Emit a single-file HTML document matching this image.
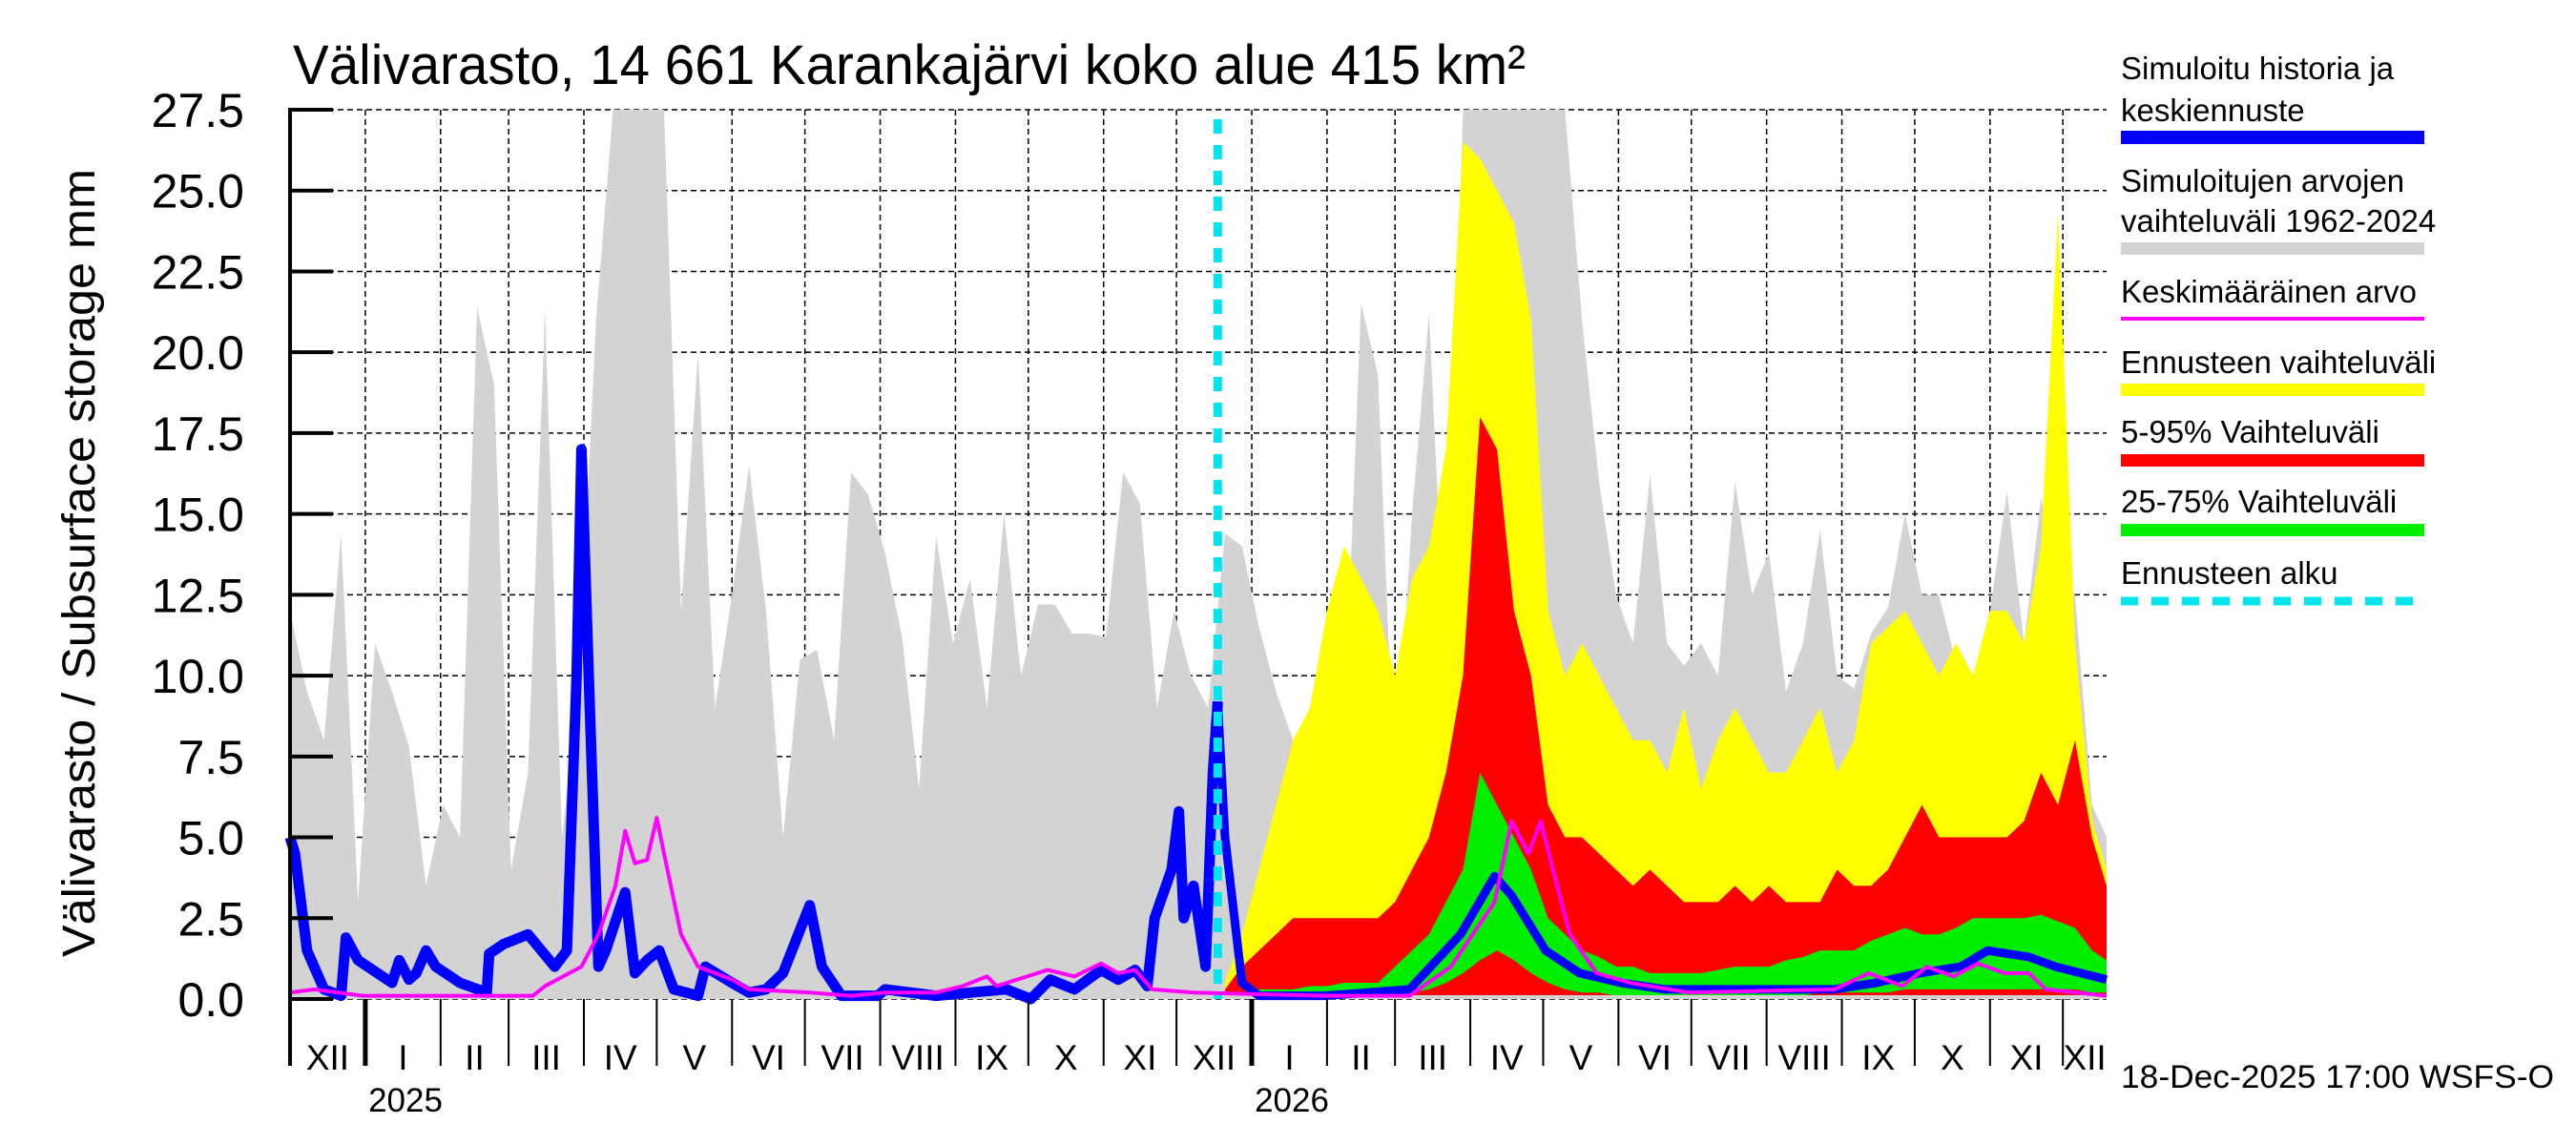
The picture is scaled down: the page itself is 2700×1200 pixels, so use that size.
<!DOCTYPE html>
<html><head><meta charset="utf-8"><style>
html,body{margin:0;padding:0;background:#fff;}
svg{display:block;font-family:"Liberation Sans",Arial,sans-serif;}
</style></head><body>
<svg id="chart" width="2700" height="1200" viewBox="0 0 2700 1200" xmlns="http://www.w3.org/2000/svg">
<text x="307" y="88" font-size="58" textLength="1292" lengthAdjust="spacingAndGlyphs">Välivarasto, 14 661 Karankajärvi koko alue 415 km²</text>
<text transform="translate(99,590) rotate(-90)" text-anchor="middle" font-size="48" textLength="826" lengthAdjust="spacingAndGlyphs">Välivarasto / Subsurface storage  mm</text>
<g id="plot"></g>
<g id="legend" font-size="33">
 <g><text x="2223" y="83">Simuloitu historia ja</text><text x="2223" y="127">keskiennuste</text><rect x="2223" y="137" width="318" height="14" fill="#0000ff"/></g>
 <g><text x="2223" y="201">Simuloitujen arvojen</text><text x="2223" y="243">vaihteluväli 1962-2024</text><rect x="2223" y="254" width="318" height="13" fill="#d3d3d3"/></g>
 <g><text x="2223" y="317">Keskimääräinen arvo</text><rect x="2223" y="332" width="318" height="4" fill="#ff00ff"/></g>
 <g><text x="2223" y="391">Ennusteen vaihteluväli</text><rect x="2223" y="402" width="318" height="13" fill="#ffff00"/></g>
 <g><text x="2223" y="464">5-95% Vaihteluväli</text><rect x="2223" y="476" width="318" height="13" fill="#ff0000"/></g>
 <g><text x="2223" y="537">25-75% Vaihteluväli</text><rect x="2223" y="549" width="318" height="13" fill="#00ee00"/></g>
 <g><text x="2223" y="612">Ennusteen alku</text><line x1="2223" y1="630" x2="2541" y2="630" stroke="#00e5ee" stroke-width="9" stroke-dasharray="18 14"/></g>
</g>
<text x="2223" y="1140" font-size="34" textLength="454" lengthAdjust="spacingAndGlyphs">18-Dec-2025 17:00 WSFS-O</text>
</svg>
<script>
// weekly values starting 1 Dec 2024 (week index k -> day 7k)
const grayMax = [12,9.5,8,14.4,3,11,9.5,7.8,3.5,6,5,21.4,19,4,7,21.3,5,10,21,27.5,27.5,27.5,27.5,12,20,9,12.5,16.5,12,5,10.5,10.8,8,16.3,15.6,13.8,11.2,6.5,14.3,11,13,9,15,10,12.2,12.2,11.3,11.3,11.2,16.3,15.3,9,12,10,9,14.4,14,11.5,9.5,8,7,5,8,21.5,19.3,6,15,21.2,10,27.5,27.5,27.5,27.5,27.5,27.5,27.5,21,16,12.5,11,16.2,11,10.3,11,10,16,12.5,13.8,9.5,11,14.5,10,9.6,11.3,12.1,15,12.5,12.5,10.4,9,12,15.7,11,15.5,13,12.5,6,5];
const fcStartWeek = 55;
const yellowMax = [0.5,2,4,6,8,9,12,14,13,12,10,13,14,17,26.5,26,25,24,21,12,10,11,10,9,8,8,7,9,6.5,8,9,8,7,7,8,9,7,8,11,11.5,12,11,10,11,10,12,12,11,14,24.3,11,5.5,4];
const redMax = [0.3,1,1.5,2,2.5,2.5,2.5,2.5,2.5,2.5,3,4,5,7,10,18,17,12,10,6,5,5,4.5,4,3.5,4,3.5,3,3,3,3.5,3,3.5,3,3,3,4,3.5,3.5,4,5,6,5,5,5,5,5,5.5,7,6,8,5,3.5];
const greenMax = [0.2,0.2,0.3,0.3,0.3,0.4,0.4,0.5,0.5,0.5,1,1.5,2,3,4,7,6,5,4,2.5,2,1.5,1.3,1,1,0.8,0.8,0.8,0.8,0.9,1,1,1,1.2,1.3,1.5,1.5,1.5,1.8,2,2.2,2,2,2.2,2.5,2.5,2.5,2.5,2.6,2.4,2.2,1.5,1.2];
const greenMin = [0,0,0,0,0,0,0,0,0,0,0.1,0.2,0.3,0.5,0.8,1.2,1.5,1.2,0.8,0.5,0.3,0.2,0.2,0.1,0.1,0.1,0.1,0.1,0.1,0.1,0.1,0.1,0.1,0.1,0.1,0.2,0.2,0.2,0.2,0.2,0.3,0.3,0.3,0.3,0.3,0.3,0.3,0.3,0.3,0.3,0.3,0.2,0.2];
// simulated history + median forecast (day offset from 1 Dec 2024)
const blueDays = [0,2,7,14,21,23,28,42,45,49,52,56,60,70,81,82,88,98,109,114,118,120,123,127,130,138,142,147,152,158,168,171,182,189,196,203,214,219,227,242,245,266,295,305,313,323,334,341,348,353,356,363,366,368,372,377,380,382,385,392,399,426,461,482,496,503,517,531,548,566,601,636,653,671,688,699,716,727,748];
const blueVals = [5,4.5,1.5,0.3,0.1,1.9,1.2,0.5,1.2,0.6,0.8,1.5,1,0.5,0.2,1.4,1.7,2,1,1.5,10,17,10,1,1.5,3.3,0.8,1.2,1.5,0.3,0.1,1,0.5,0.2,0.3,0.8,2.9,1,0.1,0.1,0.3,0.1,0.3,0,0.6,0.3,0.9,0.6,0.9,0.4,2.5,4,5.8,2.5,3.5,1,7,9.2,5,0.5,0.1,0.1,0.3,2,3.8,3.2,1.5,0.8,0.5,0.3,0.3,0.3,0.5,0.8,1,1.5,1.3,1,0.6];
const meanDays = [0,10,30,100,105,120,127,134,138,142,147,151,154,161,168,182,189,214,231,245,266,277,287,291,312,323,334,341,348,355,372,426,461,478,496,503,510,515,520,527,538,552,576,636,650,664,674,685,695,706,716,723,748];
const meanVals = [0.2,0.3,0.1,0.1,0.4,1,2,3.5,5.2,4.2,4.3,5.6,4.5,2,1,0.6,0.3,0.2,0.1,0.2,0.2,0.4,0.7,0.4,0.9,0.7,1.1,0.8,0.9,0.3,0.2,0.1,0.1,1,3,5.5,4.5,5.5,4,2,0.8,0.5,0.2,0.3,0.8,0.4,1,0.7,1.1,0.8,0.8,0.3,0.1];
const yTicks = ["0.0","2.5","5.0","7.5","10.0","12.5","15.0","17.5","20.0","22.5","25.0","27.5"];
const monthLabels = ["XII","I","II","III","IV","V","VI","VII","VIII","IX","X","XI","XII","I","II","III","IV","V","VI","VII","VIII","IX","X","XI","XII"];
const monthStarts = [0,31,62,90,121,151,182,212,243,274,304,335,365,396,427,455,486,516,547,577,608,639,669,700,730,748];
const forecastDay = 382;

const X0=304, X1=2208, Y0=1047, YT=115, DAYS=748, VMAX=27.5;
const xs = d => X0 + d*(X1-X0)/DAYS;
const ys = v => Y0 - Math.min(v,VMAX)*(Y0-YT)/VMAX;
const NS="http://www.w3.org/2000/svg";
const plot=document.getElementById('plot');
function mk(tag,attrs,parent){const e=document.createElementNS(NS,tag);for(const k in attrs)e.setAttribute(k,attrs[k]);(parent||plot).appendChild(e);return e;}
function clampDay(d){return Math.min(d,DAYS);}
function weekDay(startWeek,i){return clampDay(Math.max((startWeek+i)*7, startWeek===fcStartWeek&&i===0?forecastDay:0));}
function areaPath(startWeek, upper, lower){
  let pts=[];
  upper.forEach((v,i)=>{pts.push(xs(weekDay(startWeek,i))+','+ys(v));});
  let back=[];
  for(let i=upper.length-1;i>=0;i--){back.push(xs(weekDay(startWeek,i))+','+ys(lower?lower[i]:0));}
  return 'M'+pts.join('L')+'L'+back.join('L')+'Z';
}
yTicks.forEach((t,i)=>{
  const v=parseFloat(t), y=ys(v);
  const g=mk('line',{x1:X0,y1:y,x2:X1,y2:y,stroke:'#000','stroke-width':1.5,'stroke-dasharray':'6 4'});
  
  
});
monthStarts.slice(1,-1).forEach(d=>{
  const g=mk('line',{x1:xs(d),y1:YT,x2:xs(d),y2:Y0,stroke:'#000','stroke-width':1.5,'stroke-dasharray':'6 4'});
  
  
});
const gp=mk('path',{d:areaPath(0,grayMax,null),fill:'#d3d3d3'});


const yp=mk('path',{d:areaPath(fcStartWeek,yellowMax,null),fill:'#ffff00'});


const rp=mk('path',{d:areaPath(fcStartWeek,redMax,null),fill:'#ff0000'});


const grp=mk('path',{d:areaPath(fcStartWeek,greenMax,greenMin),fill:'#00ee00'});


const bb=mk('rect',{x:X0,y:Y0-4,width:X1-X0,height:4,fill:'#d3d3d3'});


function linePath(days,vals){return 'M'+days.map((d,i)=>xs(d)+','+ys(vals[i])).join('L');}
const hi=blueDays.indexOf(forecastDay);
const bh=mk('path',{d:linePath(blueDays.slice(0,hi+1),blueVals.slice(0,hi+1)),fill:'none',stroke:'#0000ff','stroke-width':11,'stroke-linejoin':'round'});


const bf=mk('path',{d:linePath(blueDays.slice(hi),blueVals.slice(hi)),fill:'none',stroke:'#0000ff','stroke-width':9,'stroke-linejoin':'round'});


const mp=mk('path',{d:linePath(meanDays,meanVals),fill:'none',stroke:'#ff00ff','stroke-width':4,'stroke-linejoin':'round'});


const cy=mk('line',{x1:xs(forecastDay),y1:125,x2:xs(forecastDay),y2:Y0,stroke:'#00e5ee','stroke-width':9,'stroke-dasharray':'15 12'});


const ax=mk('line',{x1:X0,y1:YT-2,x2:X0,y2:1117,stroke:'#000','stroke-width':4});


yTicks.forEach(t=>{
  const v=parseFloat(t), y=ys(v);
  const tk=mk('line',{x1:X0,y1:y,x2:X0+45,y2:y,stroke:'#000','stroke-width':4});
  
  
  const tx=mk('text',{x:256,y:y+18,'text-anchor':'end','font-size':50});
  tx.textContent=t;
  
  
});
monthStarts.slice(1,-1).forEach(d=>{
  const jan=(d===31||d===396);
  const tk=mk('line',{x1:xs(d),y1:Y0,x2:xs(d),y2:1117,stroke:'#000','stroke-width':jan?5:2});
  
  
});
monthLabels.forEach((m,i)=>{
  const cx=(xs(monthStarts[i])+xs(monthStarts[i+1]))/2;
  const tx=mk('text',{x:cx,y:1121,'text-anchor':'middle','font-size':37});
  tx.textContent=m;
  
  
});
[["2025",425],["2026",1354]].forEach(([t,x])=>{
  const tx=mk('text',{x:x,y:1165,'text-anchor':'middle','font-size':35});
  tx.textContent=t;
  
  
});
</script>
</body></html>
